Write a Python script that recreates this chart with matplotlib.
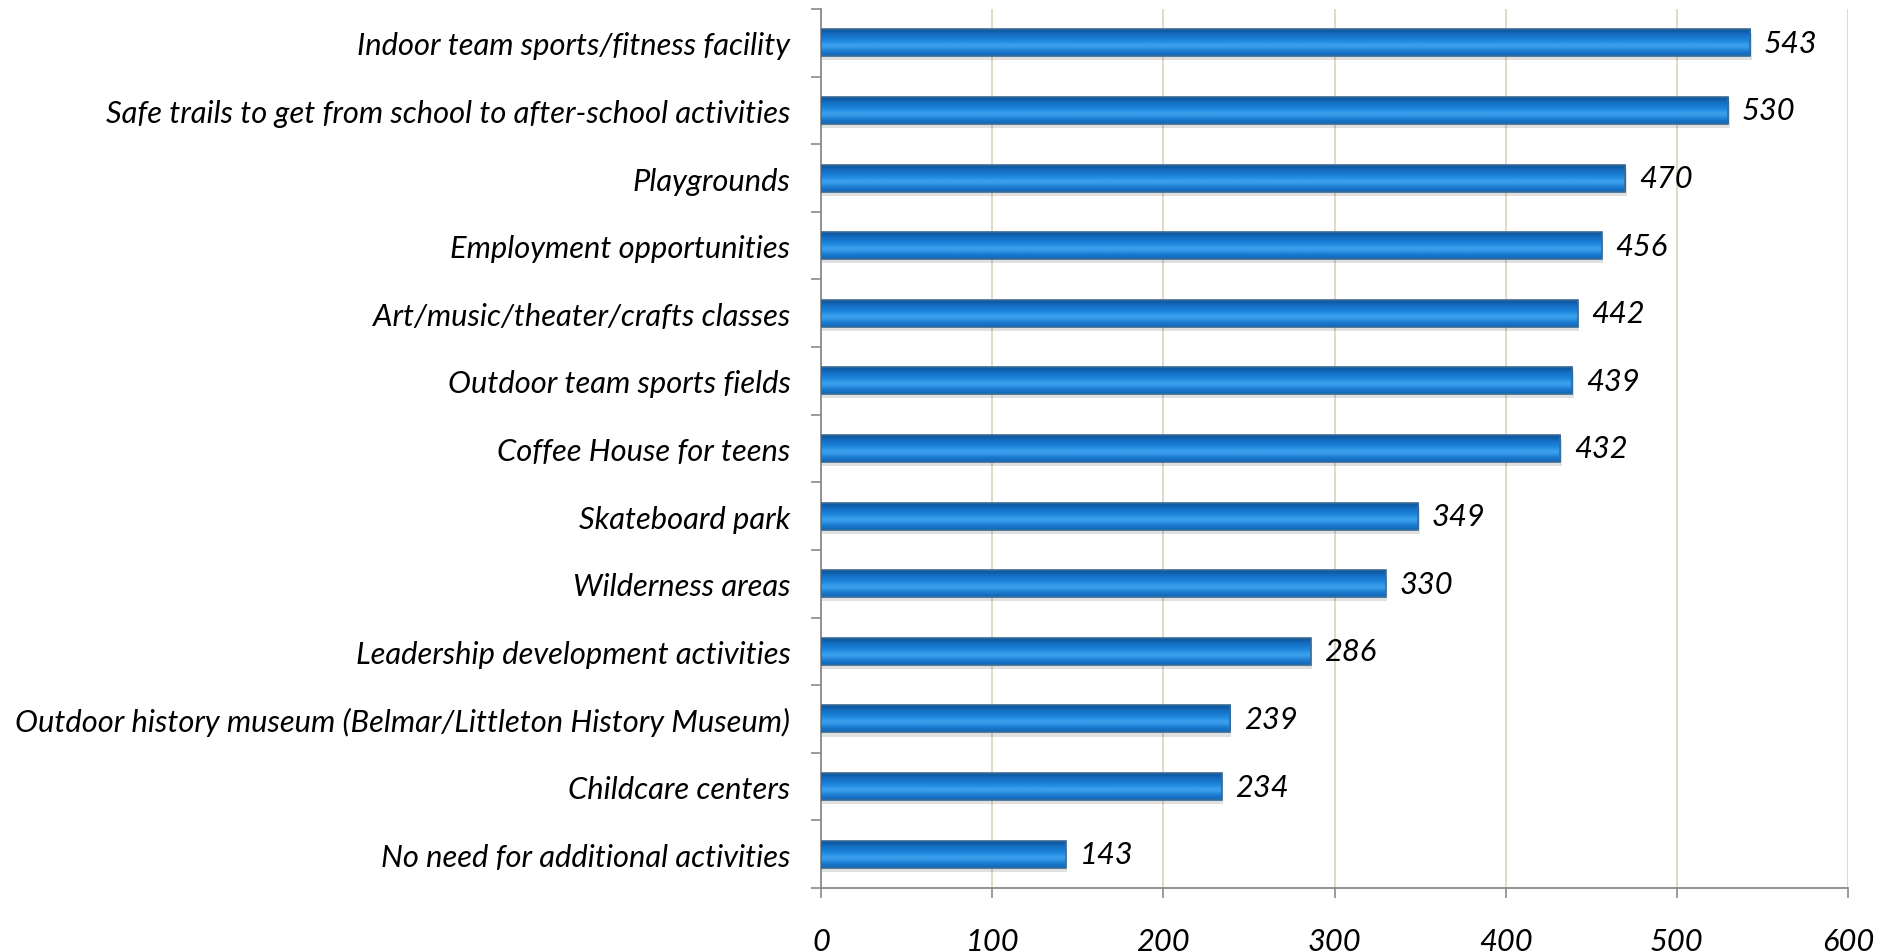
import numpy as np
import matplotlib
matplotlib.use("Agg")
import matplotlib.pyplot as plt

categories = [
    "Indoor team sports/fitness facility",
    "Safe trails to get from school to after-school activities",
    "Playgrounds",
    "Employment opportunities",
    "Art/music/theater/crafts classes",
    "Outdoor team sports fields",
    "Coffee House for teens",
    "Skateboard park",
    "Wilderness areas",
    "Leadership development activities",
    "Outdoor history museum (Belmar/Littleton History Museum)",
    "Childcare centers",
    "No need for additional activities",
]
values = [543, 530, 470, 456, 442, 439, 432, 349, 330, 286, 239, 234, 143]
xticks = [0, 100, 200, 300, 400, 500, 600]

plt.rcParams['font.family'] = ['Lato', 'DejaVu Sans']
plt.rcParams['font.style'] = 'italic'
FS = 22.2

fig = plt.figure(figsize=(18.79, 9.53), dpi=100)
ax = fig.add_axes([821 / 1879, 1 - 889 / 953, (1848 - 821) / 1879, (889 - 10) / 953])

n = len(categories)
ypos = np.arange(n)[::-1]
bar_h = 0.4

# vertical gradient for the glossy bars (top light, bottom dark)
grad = np.array([
    [0.05, 0.33, 0.60],
    [0.08, 0.43, 0.76],
    [0.09, 0.48, 0.82],
    [0.14, 0.56, 0.89],
    [0.28, 0.66, 0.95],
    [0.12, 0.51, 0.85],
    [0.07, 0.42, 0.74],
])
grad_img = grad[:, None, :]

for y, v in zip(ypos, values):
    # soft shadow under the bar
    ax.barh(y - 0.06, v, height=bar_h, left=0.8, color='#000000', alpha=0.12,
            zorder=2, linewidth=0)
    bars = ax.barh(y, v, height=bar_h, color='none', edgecolor='#3a6a96',
                   linewidth=1.2, zorder=4)
    im = ax.imshow(grad_img, extent=[0, v, y - bar_h / 2, y + bar_h / 2],
                   aspect='auto', zorder=3, interpolation='bicubic')
    im.set_clip_path(bars[0])
    ax.text(v + 8, y, str(v), va='center', ha='left', fontsize=FS,
            style='italic', color='black', zorder=5)

ax.set_xlim(0, 600)
ax.set_ylim(-0.5, n - 0.5)
ax.set_xticks(xticks)
ax.set_xticklabels([str(t) for t in xticks], fontsize=FS, style='italic')
ax.set_yticks(ypos)
ax.set_yticklabels(categories, fontsize=FS, style='italic')
ax.set_yticks(np.arange(-0.5, n, 1.0), minor=True)

ax.tick_params(axis='y', which='major', length=0, pad=22)
ax.tick_params(axis='y', which='minor', length=7, width=1.2, color='#8a8a8a', direction='out')
ax.tick_params(axis='x', which='major', length=7, width=1.2, color='#8a8a8a', direction='out', pad=21)

ax.grid(axis='x', color='#dcd8c2', linewidth=1.3, zorder=0)
ax.set_axisbelow(True)
for side in ['top', 'right']:
    ax.spines[side].set_visible(False)
for side in ['left', 'bottom']:
    ax.spines[side].set_color('#8a8a8a')
    ax.spines[side].set_linewidth(1.3)

fig.savefig("out.png", dpi=100)
